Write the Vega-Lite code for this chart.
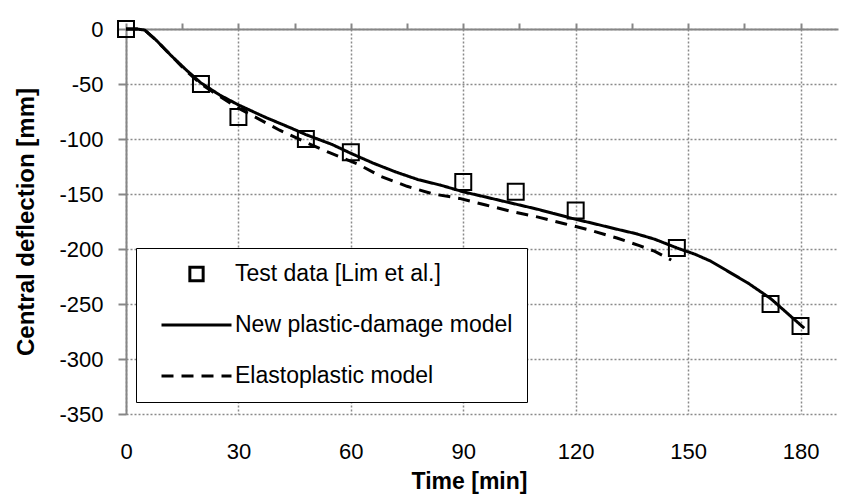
{
  "$schema": "https://vega.github.io/schema/vega-lite/v6.json",
  "width": 712,
  "height": 385,
  "autosize": {"type": "none"},
  "padding": {"left": 126, "top": 29, "right": 29, "bottom": 84},
  "background": "white",
  "config": {
    "view": {"stroke": null},
    "font": "Liberation Sans",
    "axis": {"gridDash": [2, 2], "gridColor": "#8a8a8a", "gridWidth": 1.5, "gridOpacity": 1}
  },
  "datasets": {
    "test": [
      {"series": "Test data [Lim et al.]", "t": 0, "v": 0},
      {"series": "Test data [Lim et al.]", "t": 20, "v": -50},
      {"series": "Test data [Lim et al.]", "t": 30, "v": -80},
      {"series": "Test data [Lim et al.]", "t": 48, "v": -100},
      {"series": "Test data [Lim et al.]", "t": 60, "v": -112},
      {"series": "Test data [Lim et al.]", "t": 90, "v": -139},
      {"series": "Test data [Lim et al.]", "t": 104, "v": -148},
      {"series": "Test data [Lim et al.]", "t": 120, "v": -165},
      {"series": "Test data [Lim et al.]", "t": 147, "v": -199},
      {"series": "Test data [Lim et al.]", "t": 172, "v": -250},
      {"series": "Test data [Lim et al.]", "t": 180, "v": -270}
    ],
    "models": [
      {"series": "New plastic-damage model", "t": 0, "v": 0},
      {"series": "New plastic-damage model", "t": 3, "v": 0},
      {"series": "New plastic-damage model", "t": 5, "v": -1},
      {"series": "New plastic-damage model", "t": 8, "v": -10},
      {"series": "New plastic-damage model", "t": 12, "v": -24},
      {"series": "New plastic-damage model", "t": 16, "v": -37},
      {"series": "New plastic-damage model", "t": 20, "v": -49},
      {"series": "New plastic-damage model", "t": 25, "v": -60},
      {"series": "New plastic-damage model", "t": 30, "v": -69},
      {"series": "New plastic-damage model", "t": 37, "v": -80},
      {"series": "New plastic-damage model", "t": 44, "v": -90},
      {"series": "New plastic-damage model", "t": 48, "v": -96},
      {"series": "New plastic-damage model", "t": 55, "v": -105},
      {"series": "New plastic-damage model", "t": 60, "v": -113},
      {"series": "New plastic-damage model", "t": 66, "v": -122},
      {"series": "New plastic-damage model", "t": 72, "v": -130},
      {"series": "New plastic-damage model", "t": 78, "v": -137},
      {"series": "New plastic-damage model", "t": 84, "v": -142},
      {"series": "New plastic-damage model", "t": 90, "v": -148},
      {"series": "New plastic-damage model", "t": 100, "v": -156},
      {"series": "New plastic-damage model", "t": 110, "v": -164},
      {"series": "New plastic-damage model", "t": 120, "v": -173},
      {"series": "New plastic-damage model", "t": 125, "v": -177},
      {"series": "New plastic-damage model", "t": 131, "v": -182},
      {"series": "New plastic-damage model", "t": 136, "v": -186},
      {"series": "New plastic-damage model", "t": 141, "v": -191},
      {"series": "New plastic-damage model", "t": 147, "v": -199},
      {"series": "New plastic-damage model", "t": 152, "v": -205},
      {"series": "New plastic-damage model", "t": 156, "v": -211},
      {"series": "New plastic-damage model", "t": 161, "v": -221},
      {"series": "New plastic-damage model", "t": 166, "v": -231},
      {"series": "New plastic-damage model", "t": 172, "v": -245},
      {"series": "New plastic-damage model", "t": 176, "v": -257},
      {"series": "New plastic-damage model", "t": 181, "v": -272},
      {"series": "Elastoplastic model", "t": 0, "v": 0},
      {"series": "Elastoplastic model", "t": 3, "v": 0},
      {"series": "Elastoplastic model", "t": 5, "v": -1},
      {"series": "Elastoplastic model", "t": 8, "v": -10},
      {"series": "Elastoplastic model", "t": 12, "v": -24},
      {"series": "Elastoplastic model", "t": 16, "v": -38},
      {"series": "Elastoplastic model", "t": 20, "v": -50},
      {"series": "Elastoplastic model", "t": 24, "v": -59},
      {"series": "Elastoplastic model", "t": 30, "v": -72},
      {"series": "Elastoplastic model", "t": 35, "v": -81},
      {"series": "Elastoplastic model", "t": 41, "v": -92},
      {"series": "Elastoplastic model", "t": 48, "v": -103},
      {"series": "Elastoplastic model", "t": 54, "v": -112},
      {"series": "Elastoplastic model", "t": 62, "v": -123},
      {"series": "Elastoplastic model", "t": 68, "v": -134},
      {"series": "Elastoplastic model", "t": 75, "v": -143},
      {"series": "Elastoplastic model", "t": 82, "v": -150},
      {"series": "Elastoplastic model", "t": 89, "v": -154},
      {"series": "Elastoplastic model", "t": 96, "v": -160},
      {"series": "Elastoplastic model", "t": 103, "v": -166},
      {"series": "Elastoplastic model", "t": 110, "v": -171},
      {"series": "Elastoplastic model", "t": 117, "v": -177},
      {"series": "Elastoplastic model", "t": 124, "v": -183},
      {"series": "Elastoplastic model", "t": 131, "v": -190},
      {"series": "Elastoplastic model", "t": 137, "v": -197},
      {"series": "Elastoplastic model", "t": 141, "v": -202},
      {"series": "Elastoplastic model", "t": 145.5, "v": -210}
    ]
  },
  "layer": [
    {
      "data": {"name": "models"},
      "mark": {"type": "line", "color": "black", "strokeWidth": 3},
      "encoding": {
        "x": {
          "field": "t", "type": "quantitative",
          "scale": {"domain": [0, 190], "nice": false, "zero": false},
          "axis": {
            "orient": "top", "labels": false, "title": null, "grid": false,
            "domain": true, "domainColor": "#868686", "domainWidth": 2,
            "ticks": true, "tickSize": 6, "tickWidth": 2, "tickColor": "#868686",
            "values": [0, 15, 30, 45, 60, 75, 90, 105, 120, 135, 150, 165, 180]
          }
        },
        "y": {
          "field": "v", "type": "quantitative",
          "scale": {"domain": [-350, 0], "nice": false, "zero": false},
          "axis": {
            "values": [-350, -300, -250, -200, -150, -100, -50, 0],
            "labelExpr": "'' + datum.value",
            "domain": true, "domainColor": "#868686", "domainWidth": 2,
            "ticks": true, "tickSize": 8, "tickWidth": 2, "tickColor": "#868686",
            "labelPadding": 15, "labelFontSize": 22, "labelColor": "black",
            "grid": true,
            "title": "Central deflection [mm]", "titleFontSize": 24, "titleFontWeight": "bold",
            "titleColor": "black", "titlePadding": 20
          }
        },
        "strokeDash": {
          "field": "series", "type": "nominal",
          "scale": {
            "domain": ["Test data [Lim et al.]", "New plastic-damage model", "Elastoplastic model"],
            "range": [[1, 0], [1, 0], [12, 8]]
          },
          "legend": {
            "title": null, "orient": "none", "legendX": 10, "legendY": 219,
            "padding": 14, "strokeColor": "black", "fillColor": "white",
            "labelFontSize": 23, "labelColor": "black", "labelOffset": 2, "labelLimit": 400,
            "symbolSize": 4900, "symbolStrokeWidth": 3, "symbolStrokeColor": "black",
            "symbolOffset": 10, "clipHeight": 24, "rowPadding": 27
          }
        }
      }
    },
    {
      "data": {"name": "test"},
      "mark": {"type": "point", "filled": false, "color": "black", "strokeWidth": 2, "size": 7056, "opacity": 1},
      "encoding": {
        "x": {
          "field": "t", "type": "quantitative",
          "scale": {"domain": [0, 190], "nice": false, "zero": false},
          "axis": {
            "orient": "bottom", "values": [0, 30, 60, 90, 120, 150, 180],
            "domain": false, "ticks": false, "tickSize": 0, "labelFlush": false,
            "labelPadding": 27, "labelFontSize": 22, "labelColor": "black",
            "grid": true,
            "title": "Time [min]", "titleFontSize": 23, "titleFontWeight": "bold",
            "titleColor": "black", "titlePadding": 8, "titleX": 343
          }
        },
        "y": {
          "field": "v", "type": "quantitative",
          "scale": {"domain": [-350, 0], "nice": false, "zero": false},
          "axis": {
            "values": [-350, -300, -250, -200, -150, -100, -50, 0],
            "labelExpr": "'' + datum.value",
            "domain": true, "domainColor": "#868686", "domainWidth": 2,
            "ticks": true, "tickSize": 8, "tickWidth": 2, "tickColor": "#868686",
            "labelPadding": 15, "labelFontSize": 22, "labelColor": "black",
            "grid": true,
            "title": "Central deflection [mm]", "titleFontSize": 24, "titleFontWeight": "bold",
            "titleColor": "black", "titlePadding": 20
          }
        },
        "shape": {
          "field": "series", "type": "nominal",
          "scale": {
            "domain": ["Test data [Lim et al.]", "New plastic-damage model", "Elastoplastic model"],
            "range": ["M-0.19,-0.19H0.19V0.19H-0.19Z", "M-1,0H1", "M-1,0H1"]
          },
          "legend": {
            "title": null, "orient": "none", "legendX": 10, "legendY": 219,
            "padding": 14, "strokeColor": "black", "fillColor": "white",
            "labelFontSize": 23, "labelColor": "black", "labelOffset": 2, "labelLimit": 400,
            "symbolSize": 4900, "symbolStrokeWidth": 3, "symbolStrokeColor": "black",
            "symbolOffset": 10, "clipHeight": 24, "rowPadding": 27
          }
        }
      }
    }
  ],
  "resolve": {"axis": {"x": "independent"}}
}
